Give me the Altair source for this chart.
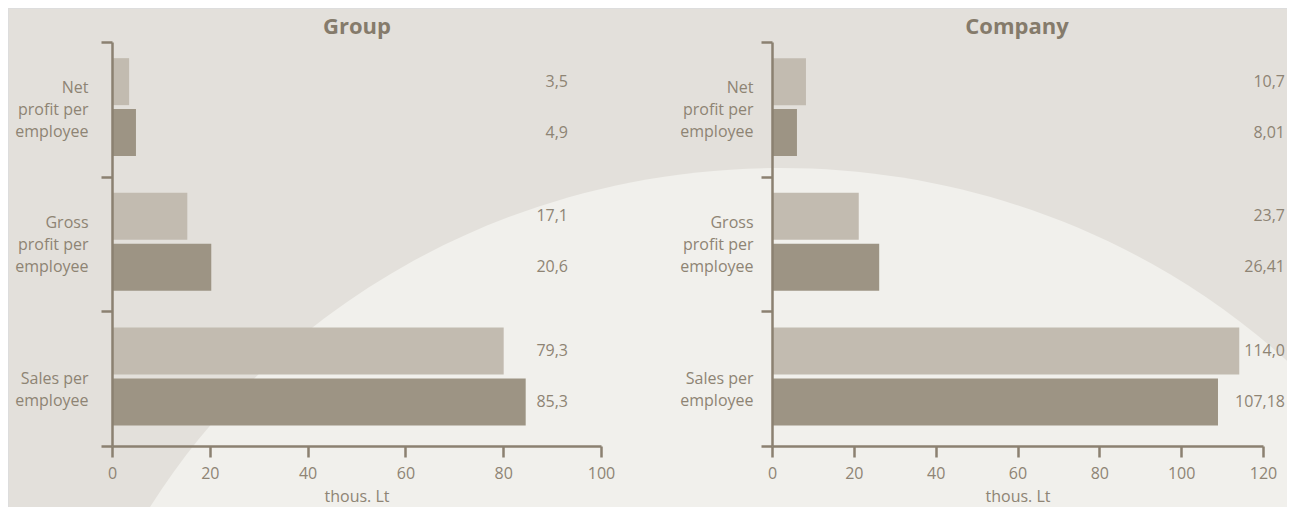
import altair as alt
import pandas as pd

# ---- data ----
categories = ["Net|profit per|employee", "Gross|profit per|employee", "Sales per|employee"]
series = ["Bar A", "Bar B"]

group_light = [3.5, 15.4, 80.1]
group_dark = [4.9, 20.3, 84.6]
group_light_text = ["3,5", "17,1", "79,3"]
group_dark_text = ["4,9", "20,6", "85,3"]

company_light = [8.3, 21.2, 114.2]
company_dark = [6.1, 26.2, 109.0]
company_light_text = ["10,7", "23,7", "114,0"]
company_dark_text = ["8,01", "26,41", "107,18"]

group_ticks = [0, 20, 40, 60, 80, 100]
company_ticks = [0, 20, 40, 60, 80, 100, 120]
panel_titles = ["Group", "Company"]
x_title = "thous. Lt"

# ---- style ----
BG = "#e3e0db"
ARC = "#f1f0ec"
LIGHT = "#c2bbb0"
DARK = "#9d9484"
AX = "#8b8171"
TXT = "#8e8474"
TITLE = "#857b6b"
FONT = "Open Sans"

W, H = 1279, 499
Y_RANGE = [34, 438]


def frame(light, dark, lt, dt):
    rows = []
    for i, c in enumerate(categories):
        rows.append({"category": c, "series": series[0], "value": light[i], "label": lt[i]})
        rows.append({"category": c, "series": series[1], "value": dark[i], "label": dt[i]})
    return pd.DataFrame(rows)


def panel(df, dmax, ticks, x_range, label_x, title, title_x, label_pad):
    y_enc = alt.Y(
        "category:N",
        sort=categories,
        scale=alt.Scale(domain=categories, range=Y_RANGE, paddingInner=0, paddingOuter=0),
        axis=alt.Axis(
            orient="left", offset=-x_range[0], title=None, tickBand="extent",
            labelExpr="split(datum.label, '|')", labelPadding=label_pad,
            labelOffset={"condition": {"test": "length(split(datum.value, '|')) > 2", "value": -22}, "value": 0},
            labelFontSize=16, labelColor=TXT, labelFont=FONT, labelLineHeight=22,
            domainColor=AX, domainWidth=2.5, tickColor=AX, tickWidth=2.5, tickSize=11,
            grid=False, zindex=1,
        ),
    )
    yoff = alt.YOffset(
        "series:N", sort=series,
        scale=alt.Scale(domain=series, paddingInner=0.078, paddingOuter=0.36, align=0.44),
    )
    bars = alt.Chart(df).mark_bar().encode(
        x=alt.X(
            "value:Q",
            scale=alt.Scale(domain=[0, dmax], range=x_range, nice=False, zero=True),
            axis=alt.Axis(
                orient="bottom", offset=Y_RANGE[1] - H, values=ticks, title=x_title,
                labelFontSize=16, labelColor=TXT, labelFont=FONT, labelPadding=8,
                labelFlush=False, labelOverlap=False,
                titleFontSize=16, titleFontWeight="normal", titleColor=TXT, titleFont=FONT,
                titlePadding=7,
                domainColor=AX, domainWidth=2.5, tickColor=AX, tickWidth=2.5, tickSize=11,
                grid=False, zindex=1,
            ),
        ),
        y=y_enc,
        yOffset=yoff,
        color=alt.Color("series:N", scale=alt.Scale(domain=series, range=[LIGHT, DARK]), legend=None),
    )
    texts = alt.Chart(df).mark_text(
        align="right", baseline="middle", fontSize=16, color=TXT, font=FONT
    ).encode(x=alt.value(label_x), y=y_enc, yOffset=yoff, text="label:N")
    ttl = alt.Chart(pd.DataFrame({"t": [title]})).mark_text(
        align="center", baseline="middle", fontSize=22, fontWeight="bold", color=TITLE, font=FONT
    ).encode(x=alt.value(title_x), y=alt.value(19), text="t:N")
    return alt.layer(bars, texts, ttl)


# background lighter ellipse (decoration)
k, e = 0.5523, 0.9468
ellipse = (
    f"M1,0 C1,{k*e:.4f} {k},{e} 0,{e} C{-k},{e} -1,{k*e:.4f} -1,0 "
    f"C-1,{-k*e:.4f} {-k},{-e} 0,{-e} C{k},{-e} 1,{-k*e:.4f} 1,0 Z"
)
bg = alt.Chart(pd.DataFrame({"k": [0]})).mark_point(
    shape=ellipse, filled=True, color=ARC, opacity=1, size=1466 ** 2, strokeWidth=0
).encode(x=alt.value(772), y=alt.value(854))

group = panel(frame(group_light, group_dark, group_light_text, group_dark_text),
              100, group_ticks, [104, 593], 560, panel_titles[0], 349, 13)
company = panel(frame(company_light, company_dark, company_light_text, company_dark_text),
                120, company_ticks, [764, 1255], 1277, panel_titles[1], 1009, 8)

chart = (
    alt.layer(bg, group, company)
    .resolve_scale(x="independent", y="independent", yOffset="independent")
    .properties(width=W, height=H, autosize=alt.AutoSizeParams(type="none"), padding=0)
    .configure_view(stroke=None)
    .configure(background=BG, font=FONT)
)

chart.save("out.html", embed_options={"renderer": "svg", "actions": False})
